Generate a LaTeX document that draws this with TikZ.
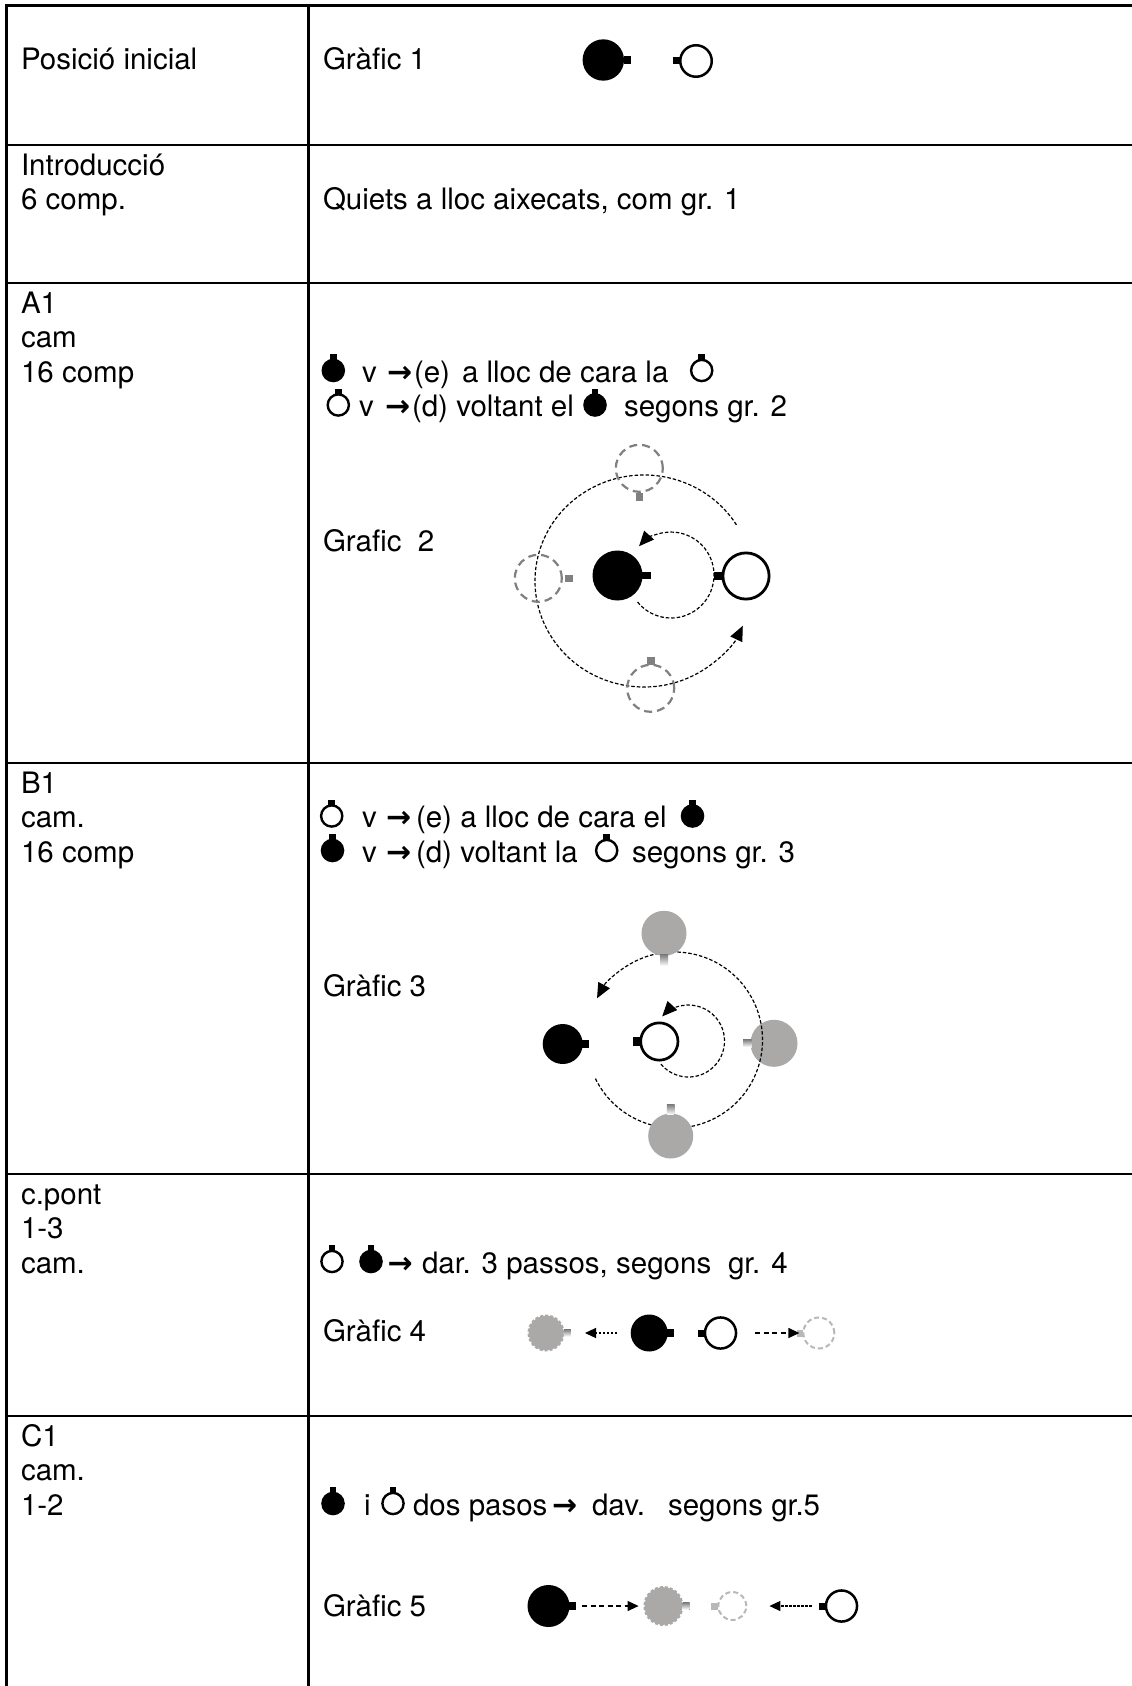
\documentclass[tikz,border=0pt]{standalone}
\usepackage{fontspec}
\setmainfont{TeX Gyre Heros}
\newfontfamily\arrowfont{DejaVu Sans}[BoldFont={DejaVu Sans Bold}]
\usetikzlibrary{arrows.meta}
\definecolor{ghostgray}{RGB}{128,128,128}
\definecolor{shade}{RGB}{171,168,168}
\definecolor{pale}{RGB}{184,184,184}
\tikzset{
  fic/.pic={\fill (0,-11.5) circle [radius=11.8]; \fill (-3.4,-21.5) rectangle (3.4,-28);},
  oic/.pic={\draw[line width=2.4pt] (0,-11.5) circle [radius=10.6]; \fill (-3.4,-21.5) rectangle (3.4,-28);}
}
\begin{document}
\begin{tikzpicture}[x=1pt,y=-1pt,
  txt/.style={inner sep=0pt, outer sep=0pt, anchor=base west, font=\fontsize{29.5}{34.5}\selectfont},
  arw/.style={inner sep=0pt, outer sep=0pt, anchor=base west, font=\fontsize{30}{34.5}\arrowfont\bfseries},
  tbl/.style={line width=2.6pt},
  blk/.style={circle, fill=black, inner sep=0pt, outer sep=0pt},
  opn/.style={circle, draw=black, fill=white, inner sep=0pt, outer sep=0pt},
  ghost/.style={circle, draw=ghostgray, line width=2.2pt, dash pattern=on 8pt off 5pt, inner sep=0pt, outer sep=0pt},
  shd/.style={circle, fill=shade, inner sep=0pt, outer sep=0pt},
  fuzz/.style={circle, fill=shade, draw=shade, line width=2.4pt, dash pattern=on 3pt off 2pt, inner sep=0pt, outer sep=0pt},
  pal/.style={circle, draw=pale, line width=2pt, dash pattern=on 5pt off 3pt, inner sep=0pt, outer sep=0pt},
  orbit/.style={line width=1.2pt, dash pattern=on 3.5pt off 2pt},
  bigtip/.style={-{Triangle[length=15pt,width=13pt]}},
  finearr/.style={line width=1.2pt, dash pattern=on 2.5pt off 1.5pt, -{Triangle[length=11pt,width=10pt]}},
  coarsearr/.style={line width=1.2pt, dash pattern=on 5pt off 3.5pt, -{Triangle[length=11pt,width=10pt]}},
]
\fill[white] (0,0) rectangle (1132,1686);
\useasboundingbox (0,0) rectangle (1132,1686);

% table
\draw[tbl] (6.5,1686) -- (6.5,5.5) -- (1132,5.5);
\draw[tbl] (308.5,5.5) -- (308.5,1686);
\foreach \yy in {145,283,763,1174,1416} \draw[tbl] (6.5,\yy) -- (1132,\yy);

% left column
\node[txt] (l1a) at (21,69.5) {Posició inicial};
\node[txt] (l2a) at (21,175) {Introducció};
\node[txt] (l2b) at (21,209.5) {6 comp.};
\node[txt] (l3a) at (21,313) {A1};
\node[txt] (l3b) at (21,347.5) {cam};
\node[txt] (l3c) at (21,382) {16 comp};
\node[txt] (l4a) at (21,793) {B1};
\node[txt] (l4b) at (21,827.5) {cam.};
\node[txt] (l4c) at (21,862) {16 comp};
\node[txt] (l5a) at (21,1204) {c.pont};
\node[txt] (l5b) at (21,1238.5) {1-3};
\node[txt] (l5c) at (21,1273) {cam.};
\node[txt] (l6a) at (21,1446) {C1};
\node[txt] (l6b) at (21,1480.5) {cam.};
\node[txt] (l6c) at (21,1515) {1-2};

% row 1
\node[txt] (g1t) at (323,69.5) {Gràfic 1};
\node[blk, minimum size=41.4pt] (b1) at (603.3,60) {};
\fill (b1.east) ++(-0.5,-4) rectangle ++(7.5,8);
\node[opn, line width=2.5pt, minimum size=31.5pt] (o1) at (696,61) {};
\fill (o1.west) ++(0.5,-3.5) rectangle ++(-7.5,7);

% row 2
\node[txt] (q2) at (323,209.5) {Quiets a lloc aixecats, com gr. 1};

% row 3 text
\pic at (333.3,382) {fic};
\node[txt] (r3a1) at (362,382) {v};
\node[arw] (r3a2) at (387,382) {→};
\node[txt] (r3a3) at (414,382) {(e)};
\node[txt] (r3a4) at (462,382) {a lloc de cara la};
\pic at (701.7,382) {oic};
\pic at (338.3,416.5) {oic};
\node[txt] (r3b1) at (359,416.5) {v};
\node[arw] (r3b2) at (385,416.5) {→};
\node[txt] (r3b3) at (412,416.5) {(d) voltant el};
\pic at (595,416.5) {fic};
\node[txt] (r3b4) at (624,416.5) {segons gr. 2};
\node[txt] (g2t) at (323,551) {Grafic~~2};

% graphic 2
\coordinate (c2) at (644,581);
\coordinate (c2s) at (671,575);
\draw[orbit, bigtip] (c2) ++(-32:109 and 106) arc[start angle=-32, end angle=-335, x radius=109, y radius=106];
\draw[orbit, bigtip] (c2s) ++(-219:43) arc[start angle=-219, end angle=-498, radius=43];
\node[ghost, minimum size=47pt] (gt) at (639.3,468.3) {};
\node[ghost, minimum size=47pt] (gl) at (538.3,578.3) {};
\node[ghost, minimum size=47pt] (gb) at (650.7,688.3) {};
\fill[ghostgray] (gt.south) ++(-3.7,1.5) rectangle ++(7.4,7.5);
\fill[ghostgray] (gl.east) ++(3,-3.8) rectangle ++(8,7.6);
\fill[ghostgray] (gb.north) ++(-3.8,0) rectangle ++(7.6,-8);
\node[blk, minimum size=50pt] (b2) at (617.5,575.5) {};
\fill (b2.east) ++(-0.5,-3.7) rectangle ++(8.5,7.4);
\node[opn, line width=2.8pt, minimum size=46.2pt] (o2) at (746,576) {};
\fill (o2.west) ++(0.5,-3.7) rectangle ++(-9.5,7.4);

% row 4 text
\pic at (331.7,827.5) {oic};
\node[txt] (r4a1) at (362,827.5) {v};
\node[arw] (r4a2) at (386,827.5) {→};
\node[txt] (r4a3) at (416,827.5) {(e) a lloc de cara el};
\pic at (692.5,827.5) {fic};
\pic at (332.5,862) {fic};
\node[txt] (r4b1) at (362,862) {v};
\node[arw] (r4b2) at (386,862) {→};
\node[txt] (r4b3) at (416,862) {(d) voltant la};
\pic at (606.7,862) {oic};
\node[txt] (r4b4) at (632,862) {segons gr. 3};
\node[txt] (g3t) at (323,996) {Gràfic 3};

% graphic 3
\node[shd, minimum size=47pt] (sr) at (774,1043.3) {};
\fill[shade] (sr.west) ++(1,-3.7) rectangle ++(-8.5,7.4);
\coordinate (c3) at (674.5,1040);
\coordinate (c3s) at (688.5,1041);
\draw[orbit, bigtip] (c3) ++(-206:88) arc[start angle=-206, end angle=-511.7, radius=88];
\draw[orbit, bigtip] (c3s) ++(-220:36) arc[start angle=-220, end angle=-497, radius=36];
\node[shd, minimum size=45pt] (st) at (664,933.3) {};
\fill[shade] (st.south) ++(-4,-1) rectangle ++(8,11);
\node[shd, minimum size=45pt] (sb) at (670.7,1136) {};
\fill[shade] (sb.north) ++(-3.8,1) rectangle ++(7.6,-10);
\node[blk, minimum size=40pt] (b3) at (562.7,1044) {};
\fill (b3.east) ++(-0.5,-4) rectangle ++(6.5,8);
\node[opn, line width=2.7pt, minimum size=37.3pt] (o3) at (659.3,1041.5) {};
\fill (o3.west) ++(0.5,-4.2) rectangle ++(-8,8.4);

% row 5 text
\pic at (332,1273) {oic};
\pic at (371,1273) {fic};
\node[arw] (r5a1) at (387.5,1273) {→};
\node[txt] (r5a2) at (422,1273) {dar. 3 passos, segons};
\node[txt] (r5a3) at (728,1273) {gr. 4};
\node[txt] (g4t) at (323,1341.5) {Gràfic 4};

% graphic 4
\node[fuzz, minimum size=34.6pt] (g4) at (546,1333) {};
\fill[shade] (g4.east) ++(0.5,-3.5) rectangle ++(7,7);
\node[blk, minimum size=37pt] (b4) at (649.2,1333) {};
\fill (b4.east) ++(-0.5,-4) rectangle ++(7,8);
\node[opn, line width=2.5pt, minimum size=31.1pt] (o4) at (720.5,1333) {};
\fill (o4.west) ++(0.5,-3.5) rectangle ++(-7,7);
\node[pal, minimum size=31pt] (p4) at (818.8,1333) {};
\fill[pale] (p4.west) ++(-0.5,-3.5) rectangle ++(-6,7);
\draw[finearr, shorten <=32pt, shorten >=39pt] (b4.center) -- (g4.center);
\draw[coarsearr, shorten <=34.5pt, shorten >=19.4pt] (o4.center) -- (p4.center);

% row 6 text
\pic at (333,1515) {fic};
\node[txt] (r6a1) at (364,1515) {i};
\pic at (393,1515) {oic};
\node[txt] (r6a2) at (413,1515) {dos pasos};
\node[arw] (r6a3) at (552,1515) {→};
\node[txt] (r6a4) at (592,1515) {dav.};
\node[txt] (r6a5) at (668,1515) {segons gr.5};
\node[txt] (g5t) at (323,1616.5) {Gràfic 5};

% graphic 5
\node[blk, minimum size=42pt] (b5) at (548.5,1606) {};
\fill (b5.east) ++(-0.5,-4) rectangle ++(6.5,8);
\node[fuzz, minimum size=37.6pt] (g5) at (663.4,1606) {};
\fill[shade] (g5.east) ++(0.5,-3.5) rectangle ++(7,7);
\node[pal, minimum size=28pt] (p5) at (732.3,1606) {};
\fill[pale] (p5.west) ++(-0.5,-3.5) rectangle ++(-6.5,7);
\node[opn, line width=2.5pt, minimum size=31.1pt] (o5) at (841.5,1606) {};
\fill (o5.west) ++(0.5,-3.5) rectangle ++(-7,7);
\draw[coarsearr, shorten <=33.5pt, shorten >=24.8pt] (b5.center) -- (g5.center);
\draw[finearr, shorten <=29.7pt, shorten >=37.1pt] (o5.center) -- (p5.center);
\end{tikzpicture}
\end{document}
